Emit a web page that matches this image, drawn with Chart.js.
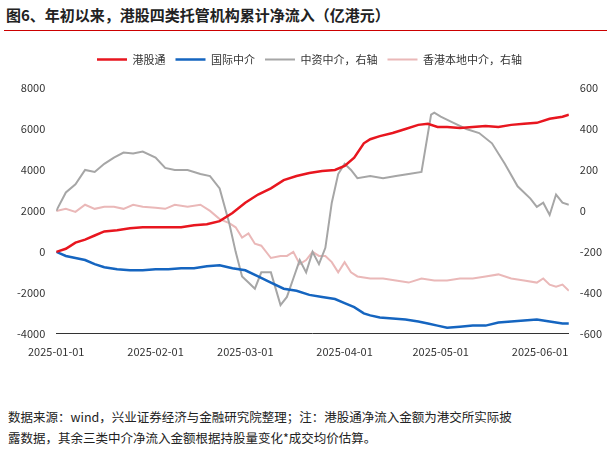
<!DOCTYPE html><html><head><meta charset="utf-8">
<script src="https://cdn.jsdelivr.net/npm/chart.js@4"></script>
<style>body{margin:0;width:611px;height:454px;background:#fff;font-family:"Noto Sans CJK SC";position:relative}
#t{position:absolute;left:6px;top:4px;font-size:15px;font-weight:bold;color:#222}
#hr{position:absolute;left:4px;right:4px;top:30px;border-top:1px solid #c00}
#c{position:absolute;left:0;top:44px;width:611px;height:317px}
#n{position:absolute;left:8px;top:406px;font-size:12.5px;line-height:21px;color:#222}</style></head><body>
<div id="t">图6、年初以来，港股四类托管机构累计净流入（亿港元）</div><div id="hr"></div>
<div id="c"><canvas id="cv"></canvas></div>
<div id="n">数据来源：wind，兴业证券经济与金融研究院整理；注：港股通净流入金额为港交所实际披<br>露数据，其余三类中介净流入金额根据持股量变化*成交均价估算。</div>
<script>
const tickDays=[0,31,59,90,120,151];
const tickLabels=['2025-01-01','2025-02-01','2025-03-01','2025-04-01','2025-05-01','2025-06-01'];
const redDays=[0,3,6,9,12,15,19,23,27,31,35,39,43,47,51,55,59,63,67,71,75,79,83,87,90,93,96,98,101,105,109,113,116,119,122,126,130,134,138,142,146,150,154,158,160];
const redVals=[0,150,450,600,800,1000,1050,1150,1200,1200,1200,1200,1300,1350,1500,1900,2400,2800,3100,3500,3700,3850,3950,4000,4200,4600,5300,5500,5650,5800,6000,6200,6250,6100,6100,6050,6100,6150,6100,6200,6250,6300,6500,6600,6700];
const blueDays=[0,3,6,9,12,15,19,23,27,31,35,39,43,47,51,55,59,63,67,71,75,79,83,87,90,93,96,98,101,105,109,113,116,119,122,126,130,134,138,142,146,150,154,158,160];
const blueVals=[0,-200,-300,-400,-600,-750,-850,-900,-900,-850,-850,-800,-800,-700,-650,-800,-900,-1200,-1500,-1800,-1900,-2100,-2200,-2300,-2500,-2700,-3000,-3100,-3200,-3250,-3300,-3400,-3500,-3600,-3700,-3650,-3600,-3600,-3450,-3400,-3350,-3300,-3400,-3500,-3500];
const grayDays=[0,3,6,9,12,15,18,21,24,27,31,34,37,41,45,48,51,54,56,58,60,62,64,67,70,72,74,76,78,80,82,84,86,88,90,92,94,98,102,106,110,114,117,118,120,124,128,132,136,140,144,148,150,152,154,156,158,160];
const grayVals=[0,90,130,200,190,230,260,285,280,290,260,210,200,200,180,170,110,-60,-200,-320,-350,-380,-300,-300,-460,-420,-330,-240,-300,-200,-260,-180,40,180,230,200,160,170,160,170,180,190,470,480,460,430,400,380,330,230,120,60,20,40,-20,80,40,30];
const pinkDays=[0,3,6,9,12,15,18,21,24,27,31,34,37,41,45,48,51,54,56,58,60,62,64,67,70,72,74,76,78,80,82,84,86,88,90,92,94,98,102,106,110,114,118,122,126,130,134,138,142,146,150,152,154,156,158,160];
const pinkVals=[0,10,-5,30,10,20,20,10,30,20,15,10,30,20,30,0,-40,-60,-80,-130,-110,-160,-170,-230,-220,-220,-200,-260,-240,-200,-220,-220,-250,-300,-250,-300,-320,-330,-330,-340,-350,-330,-340,-340,-330,-330,-320,-310,-330,-340,-350,-330,-360,-370,-360,-390];
const xy=(d,v)=>d.map((x,i)=>({x,y:v[i]}));
const f={family:'Noto Sans CJK SC',size:11};
new Chart(document.getElementById('cv'),{type:'line',data:{datasets:[
{label:'港股通',data:xy(redDays,redVals),borderColor:'#e8161f',borderWidth:2.5,yAxisID:'y'},
{label:'国际中介',data:xy(blueDays,blueVals),borderColor:'#1565c0',borderWidth:2.5,yAxisID:'y'},
{label:'中资中介，右轴',data:xy(grayDays,grayVals),borderColor:'#a6a6a6',borderWidth:2,yAxisID:'y1'},
{label:'香港本地中介，右轴',data:xy(pinkDays,pinkVals),borderColor:'#eab8b8',borderWidth:2,yAxisID:'y1'}]},
options:{animation:false,responsive:true,maintainAspectRatio:false,elements:{point:{radius:0},line:{tension:0}},
layout:{padding:{left:14,right:6,top:0,bottom:0}},
plugins:{legend:{labels:{boxWidth:30,boxHeight:0,font:f,color:'#333'}},tooltip:{enabled:false}},
scales:{x:{type:'linear',min:0,max:160,afterBuildTicks:a=>{a.ticks=tickDays.map(v=>({value:v}))},
ticks:{callback:v=>tickLabels[tickDays.indexOf(v)],font:f,color:'#333',maxRotation:0},grid:{display:false},border:{color:'#333'}},
y:{min:-4000,max:8000,ticks:{stepSize:2000,font:f,color:'#333',callback:v=>String(v)},grid:{display:false},border:{display:false}},
y1:{position:'right',min:-600,max:600,ticks:{stepSize:200,font:f,color:'#333',callback:v=>String(v)},grid:{display:false},border:{display:false}}}},
plugins:[{id:'lp',beforeInit(c){const o=c.legend.fit;c.legend.fit=function(){o.call(this);this.height+=13;}}}]});
</script></body></html>
